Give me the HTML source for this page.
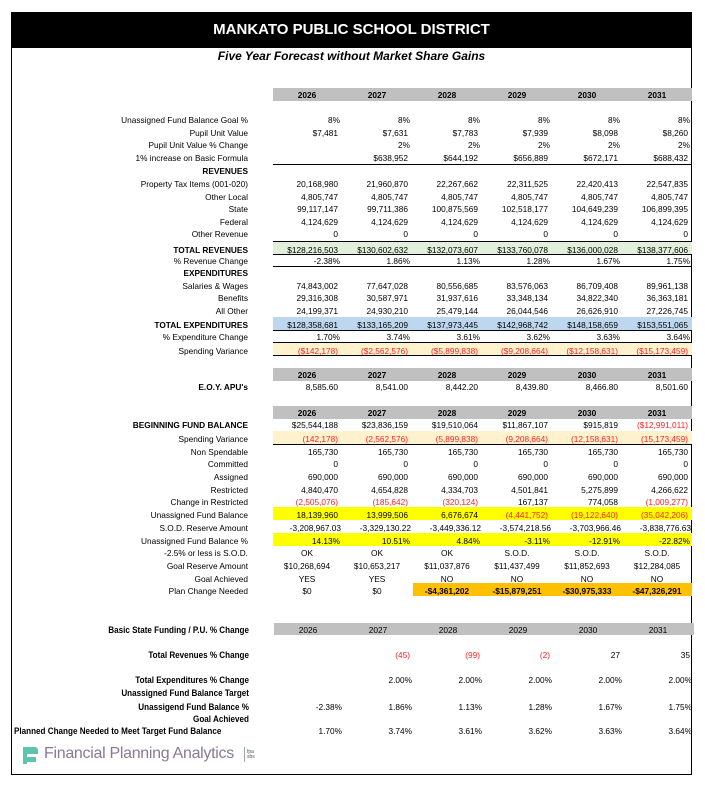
<!DOCTYPE html>
<html><head><meta charset="utf-8">
<style>
body{margin:0;width:705px;height:797px;background:#fff;position:relative;overflow:hidden;font-family:"Liberation Sans",Arial,sans-serif;}
.a{position:absolute;white-space:nowrap;line-height:1;}
.lbl{font-size:8.3px;color:#000;text-align:right;width:240px;left:8px;}
.v{font-size:8.3px;width:70px;text-align:right;}
.c{text-align:center;}
.b{font-weight:bold;}
.r{color:#ff2020;}
.band{position:absolute;left:273px;width:419px;}
.hl{position:absolute;left:273px;width:419px;height:1px;background:#000;}
.yr{font-size:8.3px;font-weight:bold;width:70px;text-align:center;}
.blbl{font-size:9px;font-weight:bold;text-align:right;width:245px;left:4px;transform:scaleX(0.9);transform-origin:right;}
</style></head><body>
<div class="a" style="left:11px;top:12px;width:681px;height:763px;border:1px solid #000;box-sizing:border-box;border-top:none"></div>
<div class="a" style="left:11px;top:12px;width:681px;height:36px;background:#000;color:#fff;font-weight:bold;font-size:15px;text-align:center;line-height:36px;">MANKATO PUBLIC SCHOOL DISTRICT</div>
<div class="a" style="left:11px;top:50px;width:681px;text-align:center;font-size:12px;font-weight:bold;font-style:italic;">Five Year Forecast without Market Share Gains</div>
<div id="root"></div>
<div class="a" style="left:20px;top:745px;height:20px;">
<svg width="20" height="20" style="position:absolute;left:0;top:0"><path d="M3 2h12a3 3 0 0 1 3 3v4h-11v3h9v5h-9v2h-4z" fill="#5ec4ae"/></svg>
<span class="a" style="left:24px;top:1px;font-size:16px;color:#8a7895;letter-spacing:-0.3px;">Financial Planning Analytics</span>
<span class="a" style="left:224px;top:2px;width:1px;height:15px;background:#9aa;"></span>
<span class="a" style="left:227px;top:5px;font-size:5px;color:#555;">fpa<br>sbs</span>
</div>
<script>
const years=['2026','2027','2028','2029','2030','2031'];
const goalPct=['8%','8%','8%','8%','8%','8%'];
const pupilUnit=['$7,481','$7,631','$7,783','$7,939','$8,098','$8,260'];
const pupilChg=['','2%','2%','2%','2%','2%'];
const basicInc=['','$638,952','$644,192','$656,889','$672,171','$688,432'];
const propTax=['20,168,980','21,960,870','22,267,662','22,311,525','22,420,413','22,547,835'];
const otherLocal=['4,805,747','4,805,747','4,805,747','4,805,747','4,805,747','4,805,747'];
const stateRev=['99,117,147','99,711,386','100,875,569','102,518,177','104,649,239','106,899,395'];
const federal=['4,124,629','4,124,629','4,124,629','4,124,629','4,124,629','4,124,629'];
const otherRev=['0','0','0','0','0','0'];
const totalRev=['$128,216,503','$130,602,632','$132,073,607','$133,760,078','$136,000,028','$138,377,606'];
const revChg=['-2.38%','1.86%','1.13%','1.28%','1.67%','1.75%'];
const salaries=['74,843,002','77,647,028','80,556,685','83,576,063','86,709,408','89,961,138'];
const benefits=['29,316,308','30,587,971','31,937,616','33,348,134','34,822,340','36,363,181'];
const allOther=['24,199,371','24,930,210','25,479,144','26,044,546','26,626,910','27,226,745'];
const totalExp=['$128,358,681','$133,165,209','$137,973,445','$142,968,742','$148,158,659','$153,551,065'];
const expChg=['1.70%','3.74%','3.61%','3.62%','3.63%','3.64%'];
const spendVar=['($142,178)','($2,562,576)','($5,899,838)','($9,208,664)','($12,158,631)','($15,173,459)'];
const eoyApu=['8,585.60','8,541.00','8,442.20','8,439.80','8,466.80','8,501.60'];
const begBal=['$25,544,188','$23,836,159','$19,510,064','$11,867,107','$915,819','($12,991,011)'];
const spendVar2=['(142,178)','(2,562,576)','(5,899,838)','(9,208,664)','(12,158,631)','(15,173,459)'];
const nonSpend=['165,730','165,730','165,730','165,730','165,730','165,730'];
const committed=['0','0','0','0','0','0'];
const assigned=['690,000','690,000','690,000','690,000','690,000','690,000'];
const restricted=['4,840,470','4,654,828','4,334,703','4,501,841','5,275,899','4,266,622'];
const chgRestricted=['(2,505,076)','(185,642)','(320,124)','167,137','774,058','(1,009,277)'];
const unassigned=['18,139,960','13,999,506','6,676,674','(4,441,752)','(19,122,640)','(35,042,206)'];
const sodReserve=['-3,208,967.03','-3,329,130.22','-3,449,336.12','-3,574,218.56','-3,703,966.46','-3,838,776.63'];
const unassignedPct=['14.13%','10.51%','4.84%','-3.11%','-12.91%','-22.82%'];
const sodFlag=['OK','OK','OK','S.O.D.','S.O.D.','S.O.D.'];
const goalReserve=['$10,268,694','$10,653,217','$11,037,876','$11,437,499','$11,852,693','$12,284,085'];
const goalAch=['YES','YES','NO','NO','NO','NO'];
const planChange=['$0','$0','-$4,361,202','-$15,879,251','-$30,975,333','-$47,326,291'];
const totRevPctChg=['','(45)','(99)','(2)','27','35'];
const totExpPctChg=['','2.00%','2.00%','2.00%','2.00%','2.00%'];
const ufbPct=['-2.38%','1.86%','1.13%','1.28%','1.67%','1.75%'];
const plannedChg=['1.70%','3.74%','3.61%','3.62%','3.63%','3.64%'];

const root=document.getElementById('root');
const colRight=[338,408,478,548,618,688];
function box(cls,name,l,t,w,h,bg){const d=document.createElement('div');d.className=cls;


d.style.left=l+'px';d.style.top=t+'px';d.style.width=w+'px';d.style.height=h+'px';if(bg)d.style.background=bg;root.appendChild(d);return d;}
function hdr(y,name){box('band',name,273,y,419,13,'#c0c0c0');years.forEach((yr,i)=>{const t=document.createElement('div');t.className='a yr';


t.style.left=(colRight[i]-66)+'px';t.style.top=(y+3)+'px';t.textContent=yr;root.appendChild(t);});}
function row(y,label,vals,opt){opt=opt||{};
 if(opt.band)box('band',label.toLowerCase().replace(/[^a-z0-9]+/g,'-')+'-band',opt.bx||273,y-4,opt.bw||(692-(opt.bx||273)),13,opt.band);
 if(label){const l=document.createElement('div');l.className='a '+(opt.blbl?'blbl':'lbl')+(opt.bold?' b':'');
 
 
 if(opt.left){l.style.textAlign='left';l.style.left='14px';l.style.transformOrigin='left';}
 l.style.top=y+'px';l.textContent=label;root.appendChild(l);}
 (vals||[]).forEach((v,i)=>{if(v==='')return;const d=document.createElement('div');
 d.className='a v'+(opt.center?' c':'')+(v.indexOf('(')>=0?' r':'')+(opt.vbold&&opt.vbold(i)?' b':'');
 
 
 const dx=(opt.dx||0);d.style.left=(opt.center?(colRight[i]-66):(colRight[i]-70+dx))+'px';d.style.top=y+'px';d.textContent=v;root.appendChild(d);});}
function line(y){box('hl','rule',273,y,419,1,'#000');}

hdr(88,'year-header-1');
row(116,'Unassigned Fund Balance Goal %',goalPct,{dx:2});
row(129,'Pupil Unit Value',pupilUnit);
row(141,'Pupil Unit Value % Change',pupilChg,{dx:2});
row(154,'1% increase on Basic Formula',basicInc);
line(164);
row(167,'REVENUES',null,{bold:true});
row(180,'Property Tax Items (001-020)',propTax);
row(193,'Other Local',otherLocal);
row(205,'State',stateRev);
row(218,'Federal',federal);
row(230,'Other Revenue',otherRev);
line(241);
row(246,'TOTAL REVENUES',totalRev,{bold:true,band:'#e2efda'});
line(254);
row(257,'% Revenue Change',revChg,{dx:2});
line(266);
row(269,'EXPENDITURES',null,{bold:true});
row(282,'Salaries & Wages',salaries);
row(294,'Benefits',benefits);
row(307,'All Other',allOther);
line(317);
row(321,'TOTAL EXPENDITURES',totalExp,{bold:true,band:'#bdd7ee'});
line(330);
row(333,'% Expenditure Change',expChg,{dx:2});
line(342);
row(347,'Spending Variance',spendVar,{band:'#fff2cc'});
line(355);

hdr(368,'year-header-2');
row(383,"E.O.Y. APU's",eoyApu,{bold:true});
hdr(406,'year-header-3');
row(421,'BEGINNING FUND BALANCE',begBal,{bold:true});
row(435,'Spending Variance',spendVar2,{band:'#fff2cc'});
line(444);
row(448,'Non Spendable',nonSpend);
row(460,'Committed',committed);
row(473,'Assigned',assigned);
row(486,'Restricted',restricted);
row(498,'Change in Restricted',chgRestricted);
row(511,'Unassigned Fund Balance',unassigned,{band:'#ffff00'});
row(524,'S.O.D. Reserve Amount',sodReserve,{dx:3});
row(537,'Unassigned Fund Balance %',unassignedPct,{band:'#ffff00',dx:2});
row(549,'-2.5% or less is S.O.D.',sodFlag,{center:true});
row(562,'Goal Reserve Amount',goalReserve,{center:true});
row(575,'Goal Achieved',goalAch,{center:true});
row(587,'Plan Change Needed',planChange,{band:'#ffc000',bx:413,bw:279,vbold:i=>i>1,center:true});

box('band','basic-funding-header',274,623,420,12,'#c0c0c0');
years.forEach((yr,i)=>{const t=document.createElement('div');t.className='a v c';


t.style.left=(colRight[i]-65)+'px';t.style.top='626px';t.textContent=yr;root.appendChild(t);});
row(626,'Basic State Funding / P.U. % Change',null,{blbl:true});
row(651,'Total Revenues % Change',totRevPctChg,{blbl:true,dx:2});
row(676,'Total Expenditures % Change',totExpPctChg,{blbl:true,dx:4});
row(689,'Unassigned Fund Balance Target',null,{blbl:true});
row(703,'Unassigend Fund Balance %',ufbPct,{blbl:true,dx:4});
row(715,'Goal Achieved',null,{blbl:true});
row(727,'Planned Change Needed to Meet Target Fund Balance',plannedChg,{blbl:true,left:true,dx:4});
</script>
</body></html>
